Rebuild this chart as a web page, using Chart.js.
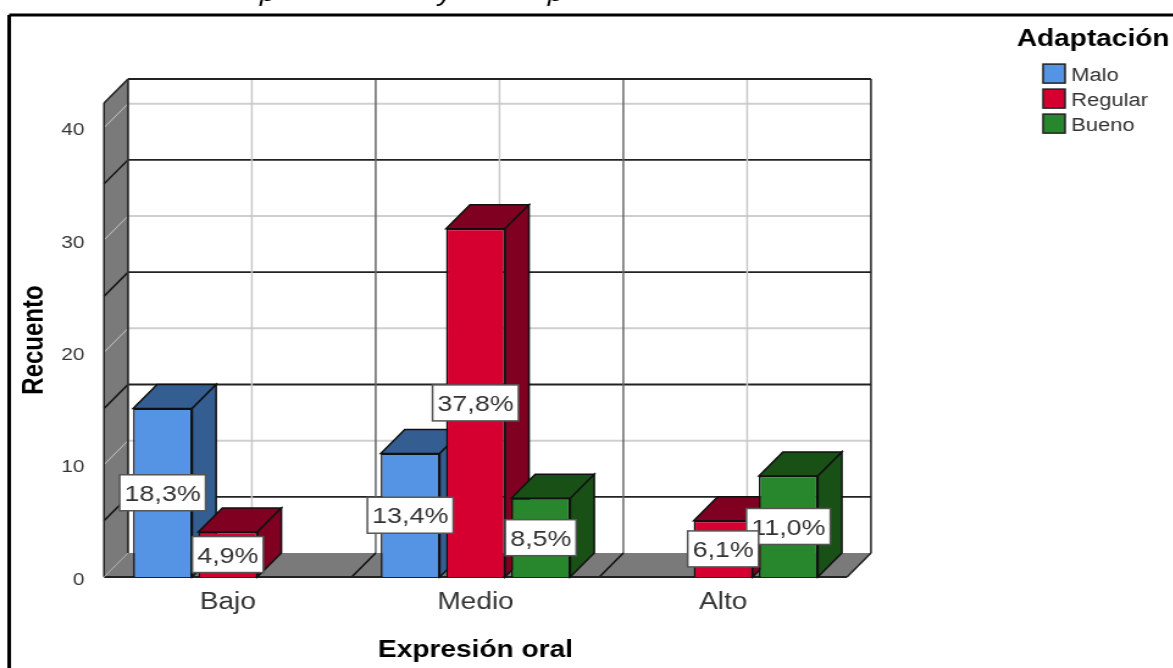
<!DOCTYPE html>
<html>
<head>
<meta charset="utf-8">
<style>
  html, body { margin: 0; padding: 0; background: #fff; overflow: hidden; }
  /* the source picture is stretched sideways and soft, so the whole canvas is too */
  #wrap { position: absolute; left: 0; top: 0; width: 962px; height: 668px; transform: scaleX(1.22); transform-origin: 0 0; filter: blur(0.4px); }
</style>
<script src="https://cdn.jsdelivr.net/npm/chart.js@4"></script>
</head>
<body>
<div id="wrap"><canvas id="chart" width="962" height="668"></canvas></div>
<script>
const categories = ['Bajo', 'Medio', 'Alto'];
const malo = [15, 11, null];
const regular = [4, 31, 5];
const bueno = [null, 7, 9];
const maloPct = ['18,3%', '13,4%', null];
const regularPct = ['4,9%', '37,8%', '6,1%'];
const buenoPct = [null, '8,5%', '11,0%'];
const yTicks = [0, 10, 20, 30, 40];
const yGridDark = [5, 15, 25, 35];

const SX = 1.22;
const DX = 24 / SX, DY = 24;
const sideColors = ['#345d92', '#7f0020', '#185016'];
const pctLabels = [maloPct, regularPct, buenoPct];

function poly(ctx, pts, fill, stroke, lw) {
    ctx.beginPath();
    pts.forEach((p, i) => i ? ctx.lineTo(p[0], p[1]) : ctx.moveTo(p[0], p[1]));
    ctx.closePath();
    if (fill) { ctx.fillStyle = fill; ctx.fill(); }
    if (stroke) { ctx.strokeStyle = stroke; ctx.lineWidth = lw; ctx.stroke(); }
}
function line(ctx, x1, y1, x2, y2, color, lw) {
    ctx.beginPath();
    ctx.moveTo(x1, y1);
    ctx.lineTo(x2, y2);
    ctx.strokeStyle = color;
    ctx.lineWidth = lw;
    ctx.stroke();
}

const depthPlugin = {
    id: 'depth',
    afterLayout(chart) {
        // legend sits in the free space top right; its title is wider than its rows
        const lg = chart.legend;
        lg.left = 849; lg.top = 28; lg.right = 943; lg.bottom = 170;
        lg.width = 94; lg.height = 142;
        lg.draw = () => lg._draw();
    },
    beforeDraw(chart) {
        const ctx = chart.ctx;
        const { left, right, top, bottom } = chart.chartArea;
        const x = chart.scales.x, y = chart.scales.y;
        ctx.save();
        // frame of the pasted picture, and what is left of the caption cut off above it
        line(ctx, 7.5, 15, 962, 15, '#000', 3);
        line(ctx, 7.5, 15, 7.5, 668, '#000', 3);
        ctx.fillStyle = '#000';
        ctx.font = 'italic 23px "Liberation Sans"';
        ctx.textBaseline = 'alphabetic';
        ctx.fillText('p', 213, 1);
        ctx.fillText('y', 359, 1);
        ctx.fillText('p', 449, 1);
        // side wall and floor
        poly(ctx, [[left, top], [left + DX, top - DY], [left + DX, bottom - DY], [left, bottom]], '#7a7a7a');
        poly(ctx, [[left, bottom], [left + DX, bottom - DY], [right + DX, bottom - DY], [right, bottom]], '#7a7a7a');
        // light lines on the whole tens, dark ones halfway
        yTicks.slice(1).forEach(v => {
            const py = y.getPixelForValue(v);
            line(ctx, left, py, left + DX, py - DY, '#c4c4c4', 1);
            line(ctx, left + DX, py - DY, right + DX, py - DY, '#cfcfcf', 2);
        });
        yGridDark.forEach(v => {
            const py = y.getPixelForValue(v);
            line(ctx, left, py, left + DX, py - DY, '#111', 1.5);
            line(ctx, left + DX, py - DY, right + DX, py - DY, '#222', 1.8);
        });
        // category lines: light at the centre, dark between
        const step = (right - left) / categories.length;
        categories.forEach((c, i) => {
            const cx = x.getPixelForValue(i);
            line(ctx, cx + DX, top - DY, cx + DX, bottom - DY, '#c8c8c8', 1.5);
            if (i > 0) {
                const bx = cx - step / 2;
                line(ctx, bx + DX, top - DY, bx + DX, bottom - DY, '#666', 1.5);
                line(ctx, bx, bottom, bx + DX, bottom - DY, '#111', 1.5);
            }
        });
        // outer edges
        line(ctx, left, bottom, left, top, '#222', 1.5);
        line(ctx, left, top, left + DX, top - DY, '#222', 1.5);
        line(ctx, left + DX, top - DY, left + DX, bottom - DY, '#333', 1.8);
        line(ctx, left + DX, top - DY, right + DX, top - DY, '#222', 1.8);
        line(ctx, right + DX, top - DY, right + DX, bottom - DY, '#222', 1.5);
        line(ctx, right + DX, bottom - DY, right, bottom, '#222', 1.5);
        line(ctx, left, bottom, right, bottom, '#222', 1.8);
        line(ctx, left, bottom, left + DX, bottom - DY, '#aaa', 1);
        ctx.restore();
    },
    // bars go left to right so each one covers the side of the one before it
    beforeDatasetsDraw(chart) {
        const ctx = chart.ctx;
        chart.data.datasets.forEach((ds, d) => {
            chart.getDatasetMeta(d).data.forEach((bar, i) => {
                if (ds.data[i] == null) return;
                const p = bar.getProps(['x', 'y', 'base', 'width'], true);
                const l = p.x - p.width / 2, r = p.x + p.width / 2;
                ctx.save();
                poly(ctx, [[l, p.y], [l + DX, p.y - DY], [r + DX, p.y - DY], [r, p.y]], sideColors[d], '#111', 1.5);
                poly(ctx, [[r, p.y], [r + DX, p.y - DY], [r + DX, p.base - DY], [r, p.base]], sideColors[d], '#111', 1.5);
                ctx.restore();
                bar.draw(ctx);
            });
        });
    },
    beforeDatasetDraw() {
        return false;
    },
    afterDraw(chart) {
        const ctx = chart.ctx;
        ctx.save();
        // value labels, first series on top
        ctx.font = '22px "Liberation Sans"';
        ctx.textAlign = 'center';
        ctx.textBaseline = 'middle';
        for (let d = 2; d >= 0; d--) {
            chart.getDatasetMeta(d).data.forEach((bar, i) => {
                const txt = pctLabels[d][i];
                if (!txt) return;
                const p = bar.getProps(['x', 'y', 'base'], true);
                const my = (p.y + p.base) / 2;
                const w = ctx.measureText(txt).width + 8;
                ctx.fillStyle = '#fff';
                ctx.fillRect(p.x - w / 2, my - 18, w, 36);
                ctx.strokeStyle = '#555';
                ctx.lineWidth = 1.5;
                ctx.strokeRect(p.x - w / 2, my - 18, w, 36);
                ctx.fillStyle = '#333';
                ctx.fillText(txt, p.x, my + 2);
            });
        }
        // legend swatches, worked out from where the legend puts its rows
        const lg = chart.legend;
        const pad = lg.options.labels.padding;
        const first = lg.top + lg._computeTitleHeight() + pad;
        chart.data.datasets.forEach((ds, i) => {
            const sy = first + i * (19 + pad) - 2.5;
            ctx.fillStyle = ds.backgroundColor;
            ctx.strokeStyle = '#222';
            ctx.lineWidth = 1.5;
            ctx.fillRect(lg.left + pad, sy, 18, 19);
            ctx.strokeRect(lg.left + pad, sy, 18, 19);
        });
        ctx.restore();
    }
};

const font = '"Liberation Sans"';

new Chart('chart', {
    type: 'bar',
    data: {
        labels: categories,
        datasets: [
            { label: 'Malo', data: malo, backgroundColor: '#5594e4' },
            { label: 'Regular', data: regular, backgroundColor: '#d60030' },
            { label: 'Bueno', data: bueno, backgroundColor: '#28862c' }
        ].map(ds => Object.assign(ds, {
            borderColor: '#111',
            borderWidth: 1.5,
            categoryPercentage: 0.79,
            barPercentage: 0.905
        }))
    },
    options: {
        responsive: false,
        animation: false,
        devicePixelRatio: 1,
        layout: { padding: { top: 103, right: 962 - 847 / SX, left: 14, bottom: 0 } },
        scales: {
            x: {
                grid: { display: false },
                border: { display: false },
                ticks: { color: '#333', font: { family: font, size: 23 }, padding: 4, maxRotation: 0 },
                title: { display: true, text: 'Expresión oral', color: '#000', font: { family: font, size: 23, weight: 'bold' }, padding: { top: 8, bottom: 4 } },
                afterFit: s => { s.height = 668 - 577; }
            },
            y: {
                min: 0,
                max: 42.2,
                grid: { display: false },
                border: { display: false },
                ticks: {
                    color: '#333',
                    font: { family: font, size: 17 },
                    padding: 8,
                    labelOffset: 3,
                    stepSize: 10,
                    callback: v => yTicks.includes(v) ? v : ''
                },
                title: { display: true, text: 'Recuento', color: '#000', font: { family: font, size: 24, weight: 'bold' }, padding: 0 },
                afterFit: s => { s.width = 104 / SX - 14; }
            }
        },
        plugins: {
            tooltip: { enabled: false },
            legend: {
                position: 'chartArea',
                align: 'start',
                title: { display: true, text: 'Adaptación', color: '#000', font: { family: font, size: 23, weight: 'bold' }, padding: { top: 0, bottom: 5 } },
                labels: {
                    color: '#333',
                    font: { family: font, size: 18 },
                    boxWidth: 14,
                    boxHeight: 19,
                    padding: 6,
                    generateLabels: c => c.data.datasets.map((ds, i) => ({
                        text: ds.label, datasetIndex: i, fillStyle: 'transparent', strokeStyle: 'transparent', lineWidth: 0, fontColor: '#333'
                    }))
                }
            }
        }
    },
    plugins: [depthPlugin]
});
</script>
</body>
</html>
